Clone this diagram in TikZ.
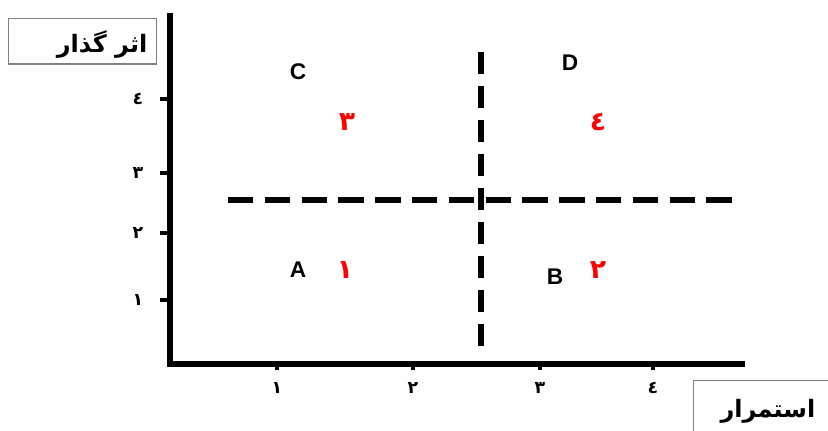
\documentclass[tikz,border=0pt]{standalone}
\usepackage{fontspec}
\setmainfont{Liberation Sans}
\newfontfamily\arabicfont[Script=Arabic]{DejaVu Sans}
\TeXXeTstate=1
\begin{document}
\begin{tikzpicture}[x=0.75pt,y=-0.75pt,
  axis/.style={line width=4.5pt},
  tickm/.style={line width=3pt},
  dashln/.style={line width=4pt, dash pattern=on 19pt off 8.6pt},
  vdashln/.style={line width=5pt, dash pattern=on 16.5pt off 9pt},
  lbl/.style={font=\bfseries\fontsize{17}{20}\selectfont},
  rnum/.style={text=red, font=\arabicfont\bfseries\fontsize{20}{24}\selectfont},
  tnum/.style={font=\arabicfont\bfseries\fontsize{13}{16}\selectfont},
  ttext/.style={font=\arabicfont\bfseries\fontsize{18}{22}\selectfont, anchor=east},
  titlebox/.style={draw=gray, line width=1pt, inner sep=0pt, anchor=north west}]
\useasboundingbox (0,0) rectangle (828,430);
\coordinate (O) at (170,364);
\coordinate (Ytop) at (170,13);
\coordinate (Xend) at (745,364);
\draw[axis] (Ytop) -- (O) -- (Xend);
% y ticks
\foreach \y/\t in {300/١,233/٢,173/٣,99/٤}{
  \draw[tickm] (160,\y) -- (170,\y);
  \node[tnum] at (138,\y) {\beginR\t\endR};
}
% x ticks
\foreach \x/\t in {277/١,413/٢,540/٣,653/٤}{
  \draw[tickm] (\x,364) -- (\x,370);
  \node[tnum] at (\x,388) {\beginR\t\endR};
}
% dashed lines
\coordinate (H1) at (228,200);
\coordinate (H2) at (732,200);
\coordinate (V1) at (481,52);
\coordinate (V2) at (481,349);
\draw[dashln] (H1) -- (H2);
\draw[vdashln] (V1) -- (V2);
% quadrant labels
\node[lbl] (C) at (298,72) {C};
\node[lbl] (D) at (570,63) {D};
\node[lbl] (A) at (298,270) {A};
\node[lbl] (B) at (555,277) {B};
\node[rnum] (n3) at (347,122) {\beginR ٣\endR};
\node[rnum] (n4) at (598,122) {\beginR ٤\endR};
\node[rnum] (n1) at (345,270) {\beginR ١\endR};
\node[rnum] (n2) at (598,270) {\beginR ٢\endR};
% boxes
\node[titlebox, minimum width=111pt, minimum height=34pt] (ty) at (8,18) {};
\node[ttext] (tyt) at (152,45) {\beginR اثر گذار\endR};
\node[titlebox, minimum width=110pt, minimum height=40pt] (tx) at (693,380) {};
\node[ttext] (txt) at (820,411) {\beginR استمرار\endR};
\end{tikzpicture}
\end{document}
